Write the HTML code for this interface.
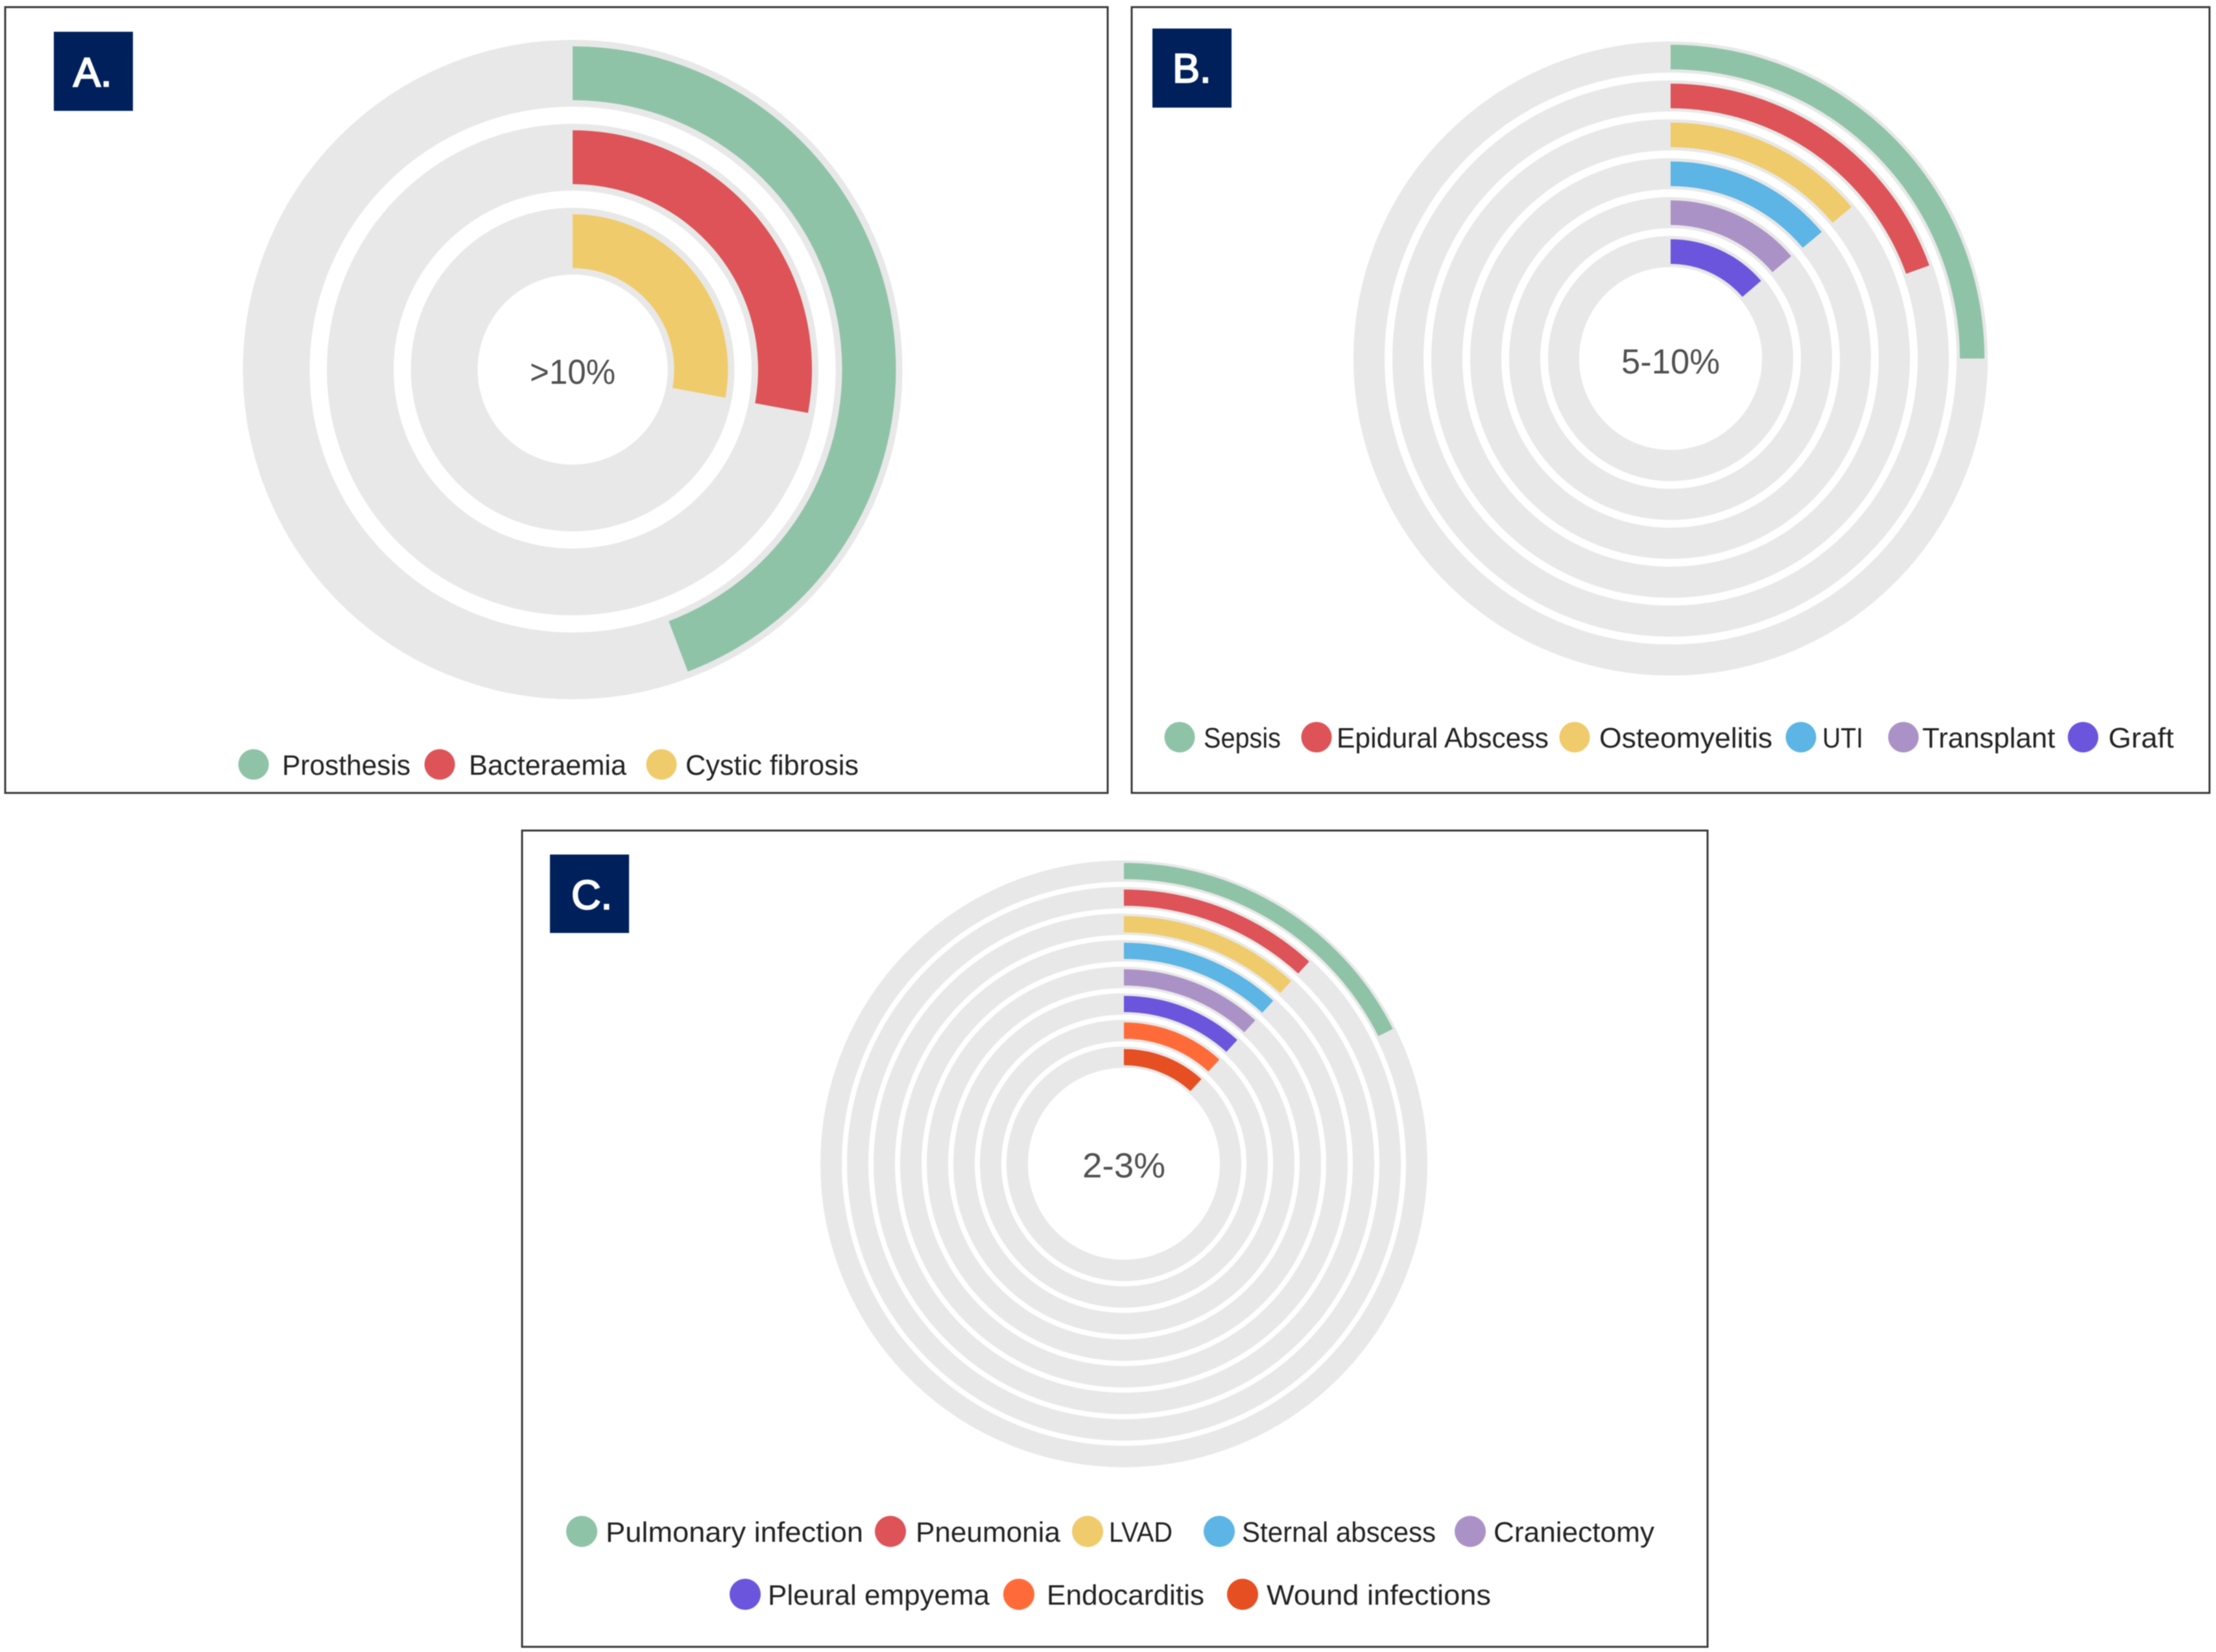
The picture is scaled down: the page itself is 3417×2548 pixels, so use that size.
<!DOCTYPE html>
<html lang="en">
<head>
<meta charset="utf-8">
<title>Radial bar charts</title>
<style>
  html, body { margin: 0; padding: 0; background: #fff; }
  svg { display: block; filter: blur(0.8px); }
  text { font-family: "Liberation Sans", sans-serif; }
  .legend-text { font-size: 44px; fill: #222; }
  .center-text { font-size: 54px; fill: #505050; text-anchor: middle; }
  .badge-text { font-size: 63px; fill: #fff; stroke: #fff; stroke-width: 2.2px; }
  .frame { fill: #fff; stroke: #3a3a3a; stroke-width: 3; }
</style>
</head>
<body>
<svg id="figure" width="3417" height="2548" viewBox="0 0 3417 2548" xmlns="http://www.w3.org/2000/svg">
  <rect width="3417" height="2548" fill="#fff"/>

  <rect class="frame" x="8" y="11" width="1700" height="1212"/>
  <rect class="frame" x="1745" y="11" width="1662" height="1212"/>
  <rect class="frame" x="805" y="1281" width="1828" height="1259"/>

  <g id="chart-a"></g>
  <g id="chart-b"></g>
  <g id="chart-c"></g>

  <g>
    <rect x="83" y="49" width="122" height="122" fill="#00205b"/>
    <text class="badge-text" x="113" y="133">A.</text>
  </g>
  <g>
    <rect x="1777" y="44" width="122" height="122" fill="#00205b"/>
    <text class="badge-text" x="1808" y="127">B.</text>
  </g>
  <g>
    <rect x="848" y="1318" width="122" height="121" fill="#00205b"/>
    <text class="badge-text" x="881" y="1402">C.</text>
  </g>

  <text class="center-text" x="883" y="592" textLength="132" lengthAdjust="spacingAndGlyphs">&gt;10%</text>
  <text class="center-text" x="2576" y="576" textLength="152" lengthAdjust="spacingAndGlyphs">5-10%</text>
  <text class="center-text" x="1733" y="1816" textLength="128" lengthAdjust="spacingAndGlyphs">2-3%</text>

  <g>
    <g><circle cx="391" cy="1179" r="23.5" fill="#8fc3a7"/><text class="legend-text" x="435" y="1195" textLength="198" lengthAdjust="spacingAndGlyphs">Prosthesis</text></g>
    <g><circle cx="678" cy="1179" r="23.5" fill="#dd5357"/><text class="legend-text" x="723" y="1195" textLength="243" lengthAdjust="spacingAndGlyphs">Bacteraemia</text></g>
    <g><circle cx="1020" cy="1179" r="23.5" fill="#f0cb6b"/><text class="legend-text" x="1057" y="1195" textLength="267" lengthAdjust="spacingAndGlyphs">Cystic fibrosis</text></g>
  </g>

  <g>
    <g><circle cx="1819" cy="1137" r="23.5" fill="#8fc3a7"/><text class="legend-text" x="1856" y="1153" textLength="119" lengthAdjust="spacingAndGlyphs">Sepsis</text></g>
    <g><circle cx="2030" cy="1137" r="23.5" fill="#dd5357"/><text class="legend-text" x="2061" y="1153" textLength="327" lengthAdjust="spacingAndGlyphs">Epidural Abscess</text></g>
    <g><circle cx="2428" cy="1137" r="23.5" fill="#f0cb6b"/><text class="legend-text" x="2466" y="1153" textLength="267" lengthAdjust="spacingAndGlyphs">Osteomyelitis</text></g>
    <g><circle cx="2777" cy="1137" r="23.5" fill="#5cb5e4"/><text class="legend-text" x="2810" y="1153" textLength="63" lengthAdjust="spacingAndGlyphs">UTI</text></g>
    <g><circle cx="2935" cy="1137" r="23.5" fill="#ab92c6"/><text class="legend-text" x="2964" y="1153" textLength="205" lengthAdjust="spacingAndGlyphs">Transplant</text></g>
    <g><circle cx="3212" cy="1137" r="23.5" fill="#6c55dd"/><text class="legend-text" x="3251" y="1153" textLength="101" lengthAdjust="spacingAndGlyphs">Graft</text></g>
  </g>

  <g>
    <g><circle cx="897" cy="2362" r="24" fill="#8fc3a7"/><text class="legend-text" x="934" y="2378" textLength="397" lengthAdjust="spacingAndGlyphs">Pulmonary infection</text></g>
    <g><circle cx="1373" cy="2362" r="24" fill="#dd5357"/><text class="legend-text" x="1412" y="2378" textLength="223" lengthAdjust="spacingAndGlyphs">Pneumonia</text></g>
    <g><circle cx="1677" cy="2362" r="24" fill="#f0cb6b"/><text class="legend-text" x="1710" y="2378" textLength="98" lengthAdjust="spacingAndGlyphs">LVAD</text></g>
    <g><circle cx="1880" cy="2362" r="24" fill="#5cb5e4"/><text class="legend-text" x="1915" y="2378" textLength="299" lengthAdjust="spacingAndGlyphs">Sternal abscess</text></g>
    <g><circle cx="2267" cy="2362" r="24" fill="#ab92c6"/><text class="legend-text" x="2303" y="2378" textLength="248" lengthAdjust="spacingAndGlyphs">Craniectomy</text></g>
    <g><circle cx="1149" cy="2459" r="24" fill="#6c55dd"/><text class="legend-text" x="1184" y="2475" textLength="342" lengthAdjust="spacingAndGlyphs">Pleural empyema</text></g>
    <g><circle cx="1571" cy="2459" r="24" fill="#ff6b38"/><text class="legend-text" x="1614" y="2475" textLength="243" lengthAdjust="spacingAndGlyphs">Endocarditis</text></g>
    <g><circle cx="1916" cy="2459" r="24" fill="#e64f22"/><text class="legend-text" x="1953" y="2475" textLength="346" lengthAdjust="spacingAndGlyphs">Wound infections</text></g>
  </g>
</svg>

<script>
// Chart data: share of a full revolution (0-100) per ring, outermost first.
const categoriesA = ['Prosthesis', 'Bacteraemia', 'Cystic fibrosis'];
const valuesA = [44.2, 27.9, 27.9];

const categoriesB = ['Sepsis', 'Epidural Abscess', 'Osteomyelitis', 'UTI', 'Transplant', 'Graft'];
const valuesB = [25, 19.5, 13.9, 13.9, 13.8, 13.7];

const categoriesC = ['Pulmonary infection', 'Pneumonia', 'LVAD', 'Sternal abscess', 'Craniectomy', 'Pleural empyema', 'Endocarditis', 'Wound infections'];
const valuesC = [17.6, 11.8, 11.8, 11.8, 11.8, 11.8, 11.8, 11.8];

const palette = ['#8fc3a7', '#dd5357', '#f0cb6b', '#5cb5e4', '#ab92c6', '#6c55dd', '#ff6b38', '#e64f22'];
const trackColor = '#e8e8e8';
const SVG_NS = 'http://www.w3.org/2000/svg';

// Axis: value -> clockwise angle from 12 o'clock, in radians.
function angleScale(value) {
  return (value / 100) * 2 * Math.PI;
}

function polar(cx, cy, r, a) {
  return [cx + r * Math.sin(a), cy - r * Math.cos(a)];
}

function sectorPath(cx, cy, rOuter, rInner, a) {
  const large = a > Math.PI ? 1 : 0;
  const p0 = polar(cx, cy, rOuter, 0);
  const p1 = polar(cx, cy, rOuter, a);
  const p2 = polar(cx, cy, rInner, a);
  const p3 = polar(cx, cy, rInner, 0);
  return 'M' + p0[0] + ' ' + p0[1] +
    'A' + rOuter + ' ' + rOuter + ' 0 ' + large + ' 1 ' + p1[0] + ' ' + p1[1] +
    'L' + p2[0] + ' ' + p2[1] +
    'A' + rInner + ' ' + rInner + ' 0 ' + large + ' 0 ' + p3[0] + ' ' + p3[1] + 'Z';
}

function slug(s) {
  return s.toLowerCase().replace(/[^a-z0-9]+/g, '-');
}

function drawChart(groupId, categories, values, cx, cy, rOuter, period, width, inset) {
  const group = document.getElementById(groupId);
  categories.forEach(function (name, i) {
    const rTop = rOuter - i * period;
    const rMid = rTop - width / 2;

    const track = document.createElementNS(SVG_NS, 'circle');
    track.setAttribute('cx', cx);
    track.setAttribute('cy', cy);
    track.setAttribute('r', rMid);
    track.setAttribute('fill', 'none');
    track.setAttribute('stroke', trackColor);
    track.setAttribute('stroke-width', width);
    
    
    group.appendChild(track);

    const bar = document.createElementNS(SVG_NS, 'path');
    bar.setAttribute('d', sectorPath(cx, cy, rTop - inset, rTop - width + inset, angleScale(values[i])));
    bar.setAttribute('fill', palette[i]);
    
    
    group.appendChild(bar);
  });
}

drawChart('chart-a', categoriesA, valuesA, 883, 570, 508.5, 129.5, 103, 10);
drawChart('chart-b', categoriesB, valuesB, 2576, 553, 489, 60, 48, 5);
drawChart('chart-c', categoriesC, valuesC, 1733, 1795, 468, 41, 33, 4);
</script>
</body>
</html>
